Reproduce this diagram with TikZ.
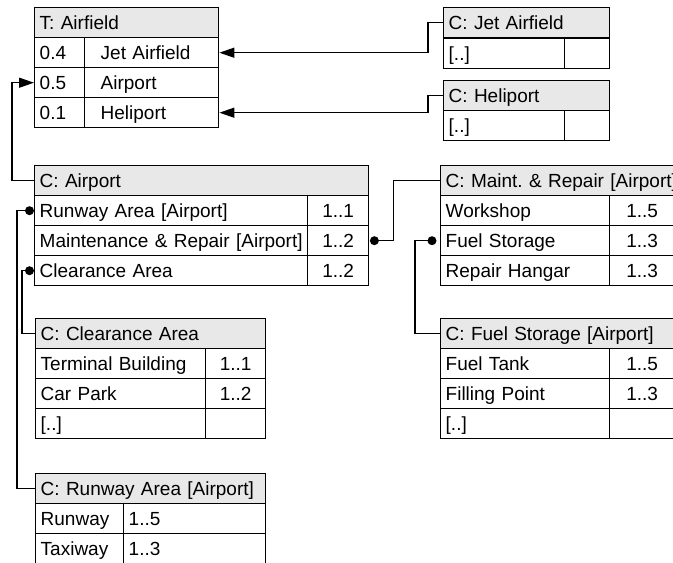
\documentclass[tikz,border=0pt]{standalone}
\usepackage{fontspec}
\setmainfont{Liberation Sans}
\usetikzlibrary{arrows.meta}
\definecolor{hdrgray}{RGB}{232,232,232}
\tikzset{
  cell/.style={draw=black, line width=1.4pt, anchor=north west, minimum height=30pt,
    inner xsep=5pt, inner ysep=0pt, text height=13.6pt, text depth=0pt, align=left,
    font=\fontsize{19pt}{22pt}\selectfont\frenchspacing},
  numcell/.style={cell, align=center},
  hdrcell/.style={cell, fill=hdrgray},
  conn/.style={line width=1.4pt},
  arr/.style={conn, -{Triangle[length=15pt,width=10pt]}},
  dot/.style={fill=black},
}
\begin{document}
\begin{tikzpicture}[x=1pt,y=-1pt]
\useasboundingbox (0,0) rectangle (673,563);
\clip (0,0) rectangle (673,563);
% T: Airfield
\node[hdrcell, text width=174pt] (tair) at (34,7) {T: Airfield};
\node[cell, text width=40pt] (tjetp) at (34,37) {0.4};
\node[cell, text width=124pt] (tjet) at (84,37) {\hspace*{11pt}Jet Airfield};
\node[cell, text width=40pt] (tairpp) at (34,67) {0.5};
\node[cell, text width=124pt] (tairp) at (84,67) {\hspace*{11pt}Airport};
\node[cell, text width=40pt] (thelip) at (34,97) {0.1};
\node[cell, text width=124pt] (theli) at (84,97) {\hspace*{11pt}Heliport};
% C: Jet Airfield
\node[hdrcell, text width=156pt] (jethdr) at (443,7) {C: Jet Airfield};
\node[cell, text width=111pt] (jetr1) at (443,38) {[..]};
\node[cell, text width=35pt] (jetr1n) at (564,38) {};
% C: Heliport
\node[hdrcell, text width=156pt] (helihdr) at (443,80) {C: Heliport};
\node[cell, text width=111pt] (helir1) at (443,110) {[..]};
\node[cell, text width=35pt] (helir1n) at (564,110) {};
% C: Airport
\node[hdrcell, text width=324pt] (aphdr) at (34,164.5) {C: Airport};
\node[cell, text width=263pt] (aprun) at (34,195) {Runway Area [Airport]};
\node[numcell, text width=51pt] (aprunn) at (307,195) {1..1};
\node[cell, text width=263pt] (apmr) at (34,225) {Maintenance \& Repair [Airport]};
\node[numcell, text width=51pt] (apmrn) at (307,225) {1..2};
\node[cell, text width=263pt] (apcl) at (34,255) {Clearance Area};
\node[numcell, text width=51pt] (apcln) at (307,255) {1..2};
% C: Maint. & Repair
\node[hdrcell, text width=224pt] (mrhdr) at (440,165) {\makebox[224pt][l]{C: Maint. \& Repair [Airport]}};
\node[cell, text width=159pt] (mrws) at (440,195) {Workshop};
\node[numcell, text width=55pt] (mrwsn) at (609,195) {1..5};
\node[cell, text width=159pt] (mrfs) at (440,225) {Fuel Storage};
\node[numcell, text width=55pt] (mrfsn) at (609,225) {1..3};
\node[cell, text width=159pt] (mrrh) at (440,255) {Repair Hangar};
\node[numcell, text width=55pt] (mrrhn) at (609,255) {1..3};
% C: Fuel Storage
\node[hdrcell, text width=224pt] (fshdr) at (440,318) {C: Fuel Storage [Airport]};
\node[cell, text width=159pt] (fsft) at (440,348) {Fuel Tank};
\node[numcell, text width=55pt] (fsftn) at (609,348) {1..5};
\node[cell, text width=159pt] (fsfp) at (440,378) {Filling Point};
\node[numcell, text width=55pt] (fsfpn) at (609,378) {1..3};
\node[cell, text width=159pt] (fsx) at (440,408) {[..]};
\node[numcell, text width=55pt] (fsxn) at (609,408) {};
% C: Clearance Area
\node[hdrcell, text width=220pt] (clhdr) at (35,318) {C: Clearance Area};
\node[cell, text width=160pt] (cltb) at (35,348) {Terminal Building};
\node[numcell, text width=50pt] (cltbn) at (205,348) {1..1};
\node[cell, text width=160pt] (clcp) at (35,378) {Car Park};
\node[numcell, text width=50pt] (clcpn) at (205,378) {1..2};
\node[cell, text width=160pt] (clx) at (35,408) {[..]};
\node[numcell, text width=50pt] (clxn) at (205,408) {};
% C: Runway Area
\node[hdrcell, text width=220pt] (rwhdr) at (35,473) {C: Runway Area [Airport]};
\node[cell, text width=78pt] (rwrw) at (35,503) {Runway};
\node[cell, text width=132pt] (rwrwn) at (123,503) {1..5};
\node[cell, text width=78pt] (rwtw) at (35,533) {Taxiway};
\node[cell, text width=132pt] (rwtwn) at (123,533) {1..3};
% connectors with arrows
\draw[arr] (jethdr.west) -- ++(-15,0) |- (tjet.east);
\draw[arr] (helihdr.west) -- ++(-15,0) |- (theli.east);
\draw[arr] (aphdr.west) -- ++(-22,0) |- (tairpp.west);
% connectors with dots
\path (aprun.west) ++(-4.5,0) coordinate (d1);
\path (apcl.west) ++(-4.5,0) coordinate (d2);
\path (apmrn.east) ++(5,0) coordinate (d3);
\path (mrfs.west) ++(-8,0) coordinate (d4);
\draw[conn] (d1) -- ++(-12.5,0) |- (rwhdr.west);
\draw[conn] (d2) -- ++(-7.5,0) |- (clhdr.west);
\draw[conn] (d3) -- ++(19,0) |- (mrhdr.west);
\draw[conn] (d4) -- ++(-17,0) |- (fshdr.west);
\fill[dot] (d1) circle (4.5pt);
\fill[dot] (d2) circle (4.5pt);
\fill[dot] (d3) circle (4.5pt);
\fill[dot] (d4) circle (4.5pt);
\end{tikzpicture}
\end{document}
